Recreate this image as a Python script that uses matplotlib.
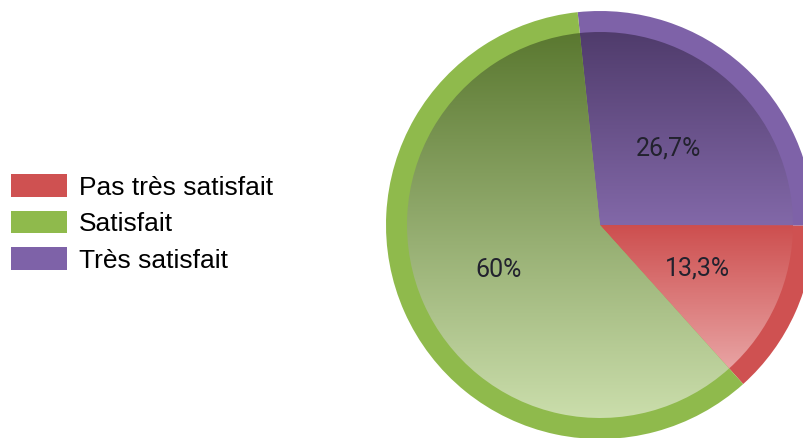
import numpy as np
import matplotlib.pyplot as plt
from matplotlib.patches import Patch
from matplotlib.colors import LinearSegmentedColormap

plt.rcParams['font.family'] = ['Liberation Sans', 'DejaVu Sans']

# data (wedge order follows the drawing, legend order follows the picture)
labels = ['Pas très satisfait', 'Très satisfait', 'Satisfait']
values = [13.3, 26.7, 60.0]
pct_text = ['13,3%', '26,7%', '60%']
rim_colors = ['#cf5151', '#7e62a8', '#8fba4c']
grad_top = ['#cd4e4e', '#4f3b6b', '#5a7830']
grad_bot = ['#e8a3a3', '#8268a8', '#cbdeac']
legend_order = [0, 2, 1]

fig = plt.figure(figsize=(8.04, 4.38), dpi=100)
ax = fig.add_axes([0, 0, 1, 1])

cx, cy, R = 600, 213, 214
r_in = 193

# outer rim
ax.pie(values, startangle=-48, center=(cx, cy), radius=R, colors=rim_colors,
       frame=True, wedgeprops=dict(linewidth=0))
# inner gradient wedges
inner, _ = ax.pie(values, startangle=-48, center=(cx, cy), radius=r_in,
                  colors=rim_colors, frame=True, wedgeprops=dict(linewidth=0))
for w, c0, c1 in zip(inner, grad_top, grad_bot):
    verts = w.get_patch_transform().transform(w.get_path().vertices)
    x0, x1 = verts[:, 0].min(), verts[:, 0].max()
    y0, y1 = verts[:, 1].min(), verts[:, 1].max()
    cmap = LinearSegmentedColormap.from_list('g', [c1, c0])
    grad = np.linspace(0, 1, 256).reshape(-1, 1)
    im = ax.imshow(grad, cmap=cmap, extent=[x0, x1, y0, y1], origin='lower',
                   aspect='auto', zorder=3, interpolation='bilinear')
    im.set_clip_path(w)

# percentage labels
ang = -48
for v, t, f in zip(values, pct_text, [0.5, 0.48, 0.52]):
    mid = np.deg2rad(ang + v * 3.6 / 2)
    ang += v * 3.6
    ax.text(cx + f * R * np.cos(mid), cy + f * R * np.sin(mid), t, ha='center',
            va='center', fontsize=18, color='#22222e', zorder=5,
            family=['Roboto', 'DejaVu Sans'])

handles = [Patch(facecolor=rim_colors[i], edgecolor='none') for i in legend_order]
ax.legend(handles, [labels[i] for i in legend_order], loc='center left',
          bbox_to_anchor=(0.0, 0.49), frameon=False, fontsize=19,
          handlelength=2.15, handleheight=0.95, handletextpad=0.45,
          labelspacing=0.42, borderaxespad=0)

ax.set_xlim(0, 804)
ax.set_ylim(0, 438)
ax.set_aspect('equal')
ax.axis('off')
fig.savefig('out.png', dpi=100)
